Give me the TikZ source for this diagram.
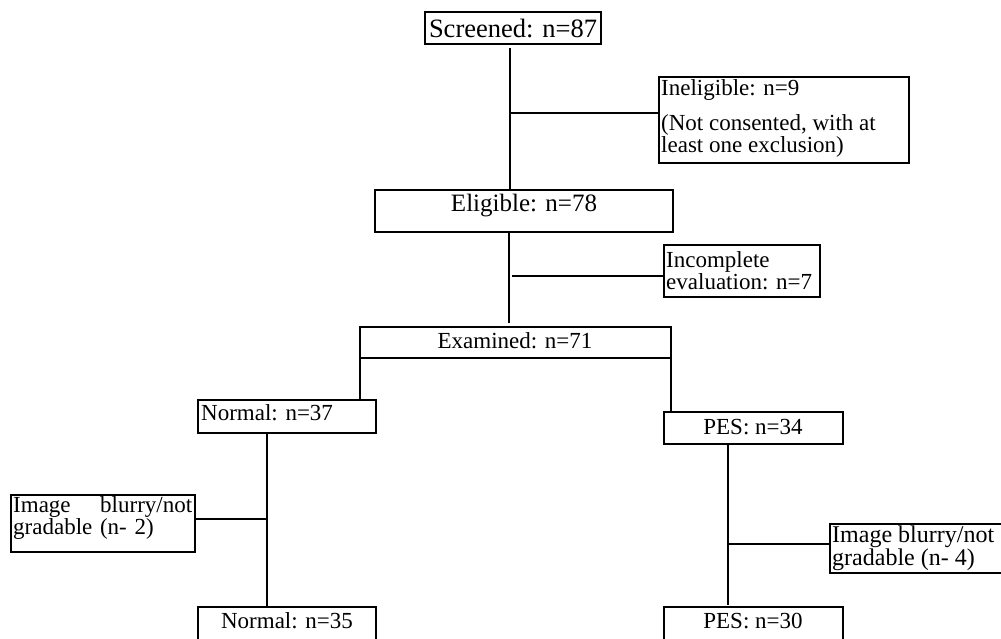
\documentclass[tikz,border=0pt]{standalone}
\usepackage{fontspec}
\setmainfont{Liberation Serif}
\begin{document}
\begin{tikzpicture}[x=1pt,y=-1pt,
  box/.style={draw, line width=2pt, inner sep=0pt, outer sep=0pt, anchor=north west},
  conn/.style={line width=2pt},
  txt/.style={inner sep=0pt, font=\fontsize{23}{20}\selectfont},
  ltxt/.style={txt, anchor=west, align=left}]
\useasboundingbox (0,0) rectangle (1001,638);
% boxes
\node[box,minimum width=176pt,minimum height=32pt] (scr) at (425,12) {};
\node[box,minimum width=250pt,minimum height=86pt] (inel) at (659,77) {};
\node[box,minimum width=298pt,minimum height=42pt] (elig) at (375,190) {};
\node[box,minimum width=156pt,minimum height=52pt] (inc) at (664,245) {};
\node[box,minimum width=311pt,minimum height=31pt] (exam) at (360,327) {};
\node[box,minimum width=178pt,minimum height=33pt] (norm) at (198,400) {};
\node[box,minimum width=179pt,minimum height=32pt] (pes) at (664,412) {};
\node[box,minimum width=184pt,minimum height=57pt] (blurA) at (11,495) {};
\node[box,minimum width=172pt,minimum height=49pt] (blurB) at (830,524) {};
\node[box,minimum width=178pt,minimum height=45pt] (normB) at (198,607) {};
\node[box,minimum width=179pt,minimum height=45pt] (pesB) at (664,607) {};
% texts
\node[txt, font=\fontsize{26.5}{20}\selectfont] (scrT) at (513,28) {Screened: n=87};
\node[ltxt] (inelT1) at (661,90) {Ineligible: n=9};
\node[ltxt] (inelT2) at (661,136) {(Not consented, with at\\least one exclusion)};
\node[txt, font=\fontsize{25}{20}\selectfont] (eligT) at (524,206) {Eligible: n=78};
\node[ltxt] (incT) at (666,271) {Incomplete\\evaluation: n=7};
\node[txt] (examT) at (515,341) {Examined: n=71};
\node[ltxt] (normT) at (201,413) {Normal: n=37};
\node[txt] (pesT) at (753,427) {PES: n=34};
\node[txt, anchor=west, text width=179pt, align=left] (blurAT) at (13,518) {Image\hfill blurry/not\\gradable (n- 2)};
\node[ltxt, font=\fontsize{24}{20}\selectfont] (blurBT) at (832,548) {Image blurry/not\\gradable (n- 4)};
\node[txt] (normBT) at (287,621) {Normal: n=35};
\node[txt] (pesBT) at (753,621) {PES: n=30};
% connectors
\coordinate (t1) at (510,48);
\draw[conn] (t1) -- (t1 |- elig.north);
\coordinate (b1) at (510,113);
\draw[conn] (b1) -- (b1 -| inel.west);
\coordinate (t2) at (509,232);
\draw[conn] (t2) -- (509,323) coordinate (t2e);
\coordinate (b2) at (512,276);
\draw[conn] (b2) -- (b2 -| inc.west);
\draw[conn] (exam.south west) -- (exam.south west |- norm.north);
\draw[conn] (exam.south east) -- (exam.south east |- pes.north);
\coordinate (t3) at (267,433);
\draw[conn] (t3) -- (t3 |- normB.north);
\coordinate (b3) at (267,519);
\draw[conn] (b3) -- (b3 -| blurA.east);
\coordinate (t4) at (728,444);
\draw[conn] (t4) -- (728,605) coordinate (t4e);
\coordinate (b4) at (728,544);
\draw[conn] (b4) -- (b4 -| blurB.west);
\end{tikzpicture}
\end{document}
